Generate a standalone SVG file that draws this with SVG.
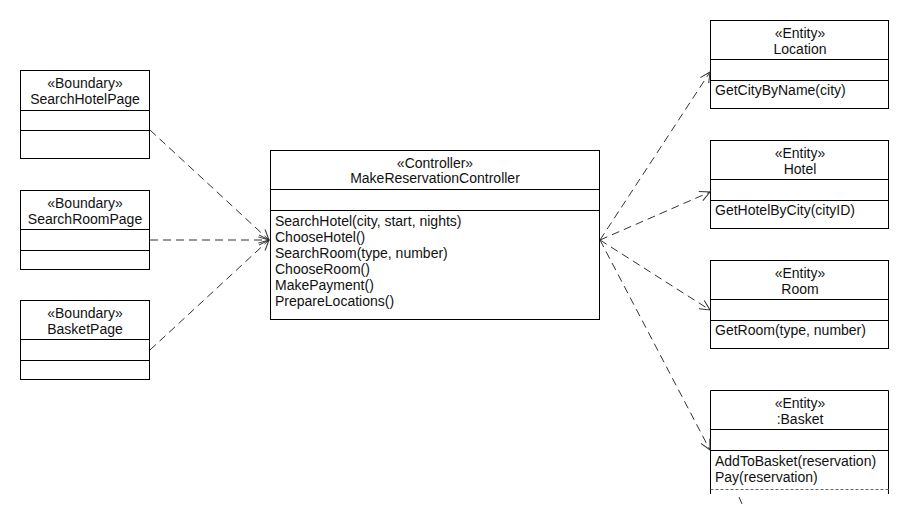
<svg xmlns="http://www.w3.org/2000/svg" width="910" height="510" viewBox="0 0 910 510">
  <style>
    .box { fill: #ffffff; stroke: #000000; stroke-width: 1; }
    .div { stroke: #000000; stroke-width: 1; }
    .t { font-family: "Liberation Sans", Arial, sans-serif; font-size: 14px; fill: #111111; }
    .c { text-anchor: middle; }
    .dep { fill: none; stroke: #333333; stroke-width: 1; stroke-dasharray: 8 5; }
  </style>
  <defs>
    <marker id="open" viewBox="-11 -6 12 12" refX="0" refY="0" markerWidth="12" markerHeight="12" markerUnits="userSpaceOnUse" orient="auto">
      <path d="M-10,-5 L0,0 L-10,5" fill="none" stroke="#333333" stroke-width="1"/>
    </marker>
  </defs>
  <rect width="910" height="510" fill="#ffffff"/>

  <!-- boundary classes -->
  <g id="SearchHotelPage">
    <rect class="box" x="20.5" y="70.5" width="129" height="88"/>
    <line class="div" x1="20.5" y1="110.5" x2="149.5" y2="110.5"/>
    <line class="div" x1="20.5" y1="130.5" x2="149.5" y2="130.5"/>
    <text class="t c" x="85" y="88">«Boundary»</text>
    <text class="t c" x="85" y="104">SearchHotelPage</text>
  </g>
  <g id="SearchRoomPage">
    <rect class="box" x="20.5" y="190.5" width="129" height="79"/>
    <line class="div" x1="20.5" y1="229.5" x2="149.5" y2="229.5"/>
    <line class="div" x1="20.5" y1="250.5" x2="149.5" y2="250.5"/>
    <text class="t c" x="85" y="208">«Boundary»</text>
    <text class="t c" x="85" y="224">SearchRoomPage</text>
  </g>
  <g id="BasketPage">
    <rect class="box" x="20.5" y="300.5" width="129" height="79"/>
    <line class="div" x1="20.5" y1="339.5" x2="149.5" y2="339.5"/>
    <line class="div" x1="20.5" y1="360.5" x2="149.5" y2="360.5"/>
    <text class="t c" x="85" y="318">«Boundary»</text>
    <text class="t c" x="85" y="334">BasketPage</text>
  </g>

  <!-- controller -->
  <g id="MakeReservationController">
    <rect class="box" x="270.5" y="150.5" width="329" height="169"/>
    <line class="div" x1="270.5" y1="189.5" x2="599.5" y2="189.5"/>
    <line class="div" x1="270.5" y1="210.5" x2="599.5" y2="210.5"/>
    <text class="t c" x="435" y="168">«Controller»</text>
    <text class="t c" x="435" y="183">MakeReservationController</text>
    <text class="t" x="275" y="226">SearchHotel(city, start, nights)</text>
    <text class="t" x="275" y="242">ChooseHotel()</text>
    <text class="t" x="275" y="258">SearchRoom(type, number)</text>
    <text class="t" x="275" y="274">ChooseRoom()</text>
    <text class="t" x="275" y="290">MakePayment()</text>
    <text class="t" x="275" y="306">PrepareLocations()</text>
  </g>

  <!-- entity classes -->
  <g id="Location">
    <rect class="box" x="710.5" y="20.5" width="178" height="88"/>
    <line class="div" x1="710.5" y1="59.5" x2="888.5" y2="59.5"/>
    <line class="div" x1="710.5" y1="80.5" x2="888.5" y2="80.5"/>
    <text class="t c" x="800" y="38">«Entity»</text>
    <text class="t c" x="800" y="54">Location</text>
    <text class="t" x="715" y="95">GetCityByName(city)</text>
  </g>
  <g id="Hotel">
    <rect class="box" x="710.5" y="140.5" width="178" height="88"/>
    <line class="div" x1="710.5" y1="179.5" x2="888.5" y2="179.5"/>
    <line class="div" x1="710.5" y1="200.5" x2="888.5" y2="200.5"/>
    <text class="t c" x="800" y="158">«Entity»</text>
    <text class="t c" x="800" y="174">Hotel</text>
    <text class="t" x="715" y="215">GetHotelByCity(cityID)</text>
  </g>
  <g id="Room">
    <rect class="box" x="710.5" y="260.5" width="178" height="88"/>
    <line class="div" x1="710.5" y1="299.5" x2="888.5" y2="299.5"/>
    <line class="div" x1="710.5" y1="320.5" x2="888.5" y2="320.5"/>
    <text class="t c" x="800" y="278">«Entity»</text>
    <text class="t c" x="800" y="294">Room</text>
    <text class="t" x="715" y="335">GetRoom(type, number)</text>
  </g>
  <g id="Basket">
    <path class="div" fill="#ffffff" d="M710.5,494 L710.5,390.5 L888.5,390.5 L888.5,494"/>
    <line class="div" x1="710.5" y1="429.5" x2="888.5" y2="429.5"/>
    <line class="div" x1="710.5" y1="450.5" x2="888.5" y2="450.5"/>
    <line x1="710.5" y1="489.5" x2="888.5" y2="489.5" stroke="#666666" stroke-width="1" stroke-dasharray="3 2"/>
    <text class="t c" x="800" y="408">«Entity»</text>
    <text class="t c" x="800" y="424">:Basket</text>
    <text class="t" x="715" y="466">AddToBasket(reservation)</text>
    <text class="t" x="715" y="482">Pay(reservation)</text>
  </g>

  <!-- dependency connectors -->
  <g id="connectors">
    <path class="dep" d="M150,130 L269,240" marker-end="url(#open)"/>
    <path class="dep" d="M150,240 L269,240" marker-end="url(#open)"/>
    <path class="dep" d="M150,350 L269,240" marker-end="url(#open)"/>
    <path class="dep" d="M600,240 L710,72" marker-end="url(#open)"/>
    <path class="dep" d="M600,240 L710,192" marker-end="url(#open)"/>
    <path class="dep" d="M600,240 L710,310" marker-end="url(#open)"/>
    <path class="dep" d="M600,240 L710,450" marker-end="url(#open)"/>
    <path class="dep" d="M739,497 L742,504"/>
  </g>
</svg>
